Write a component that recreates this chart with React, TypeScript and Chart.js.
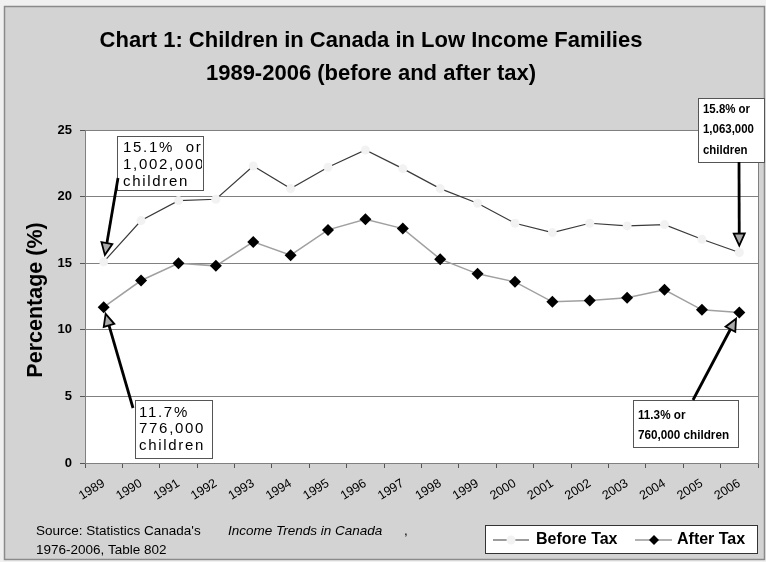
import { useEffect, useRef } from 'react';
import { Chart, registerables } from 'chart.js';

Chart.register(...registerables);

const years = ['1989', '1990', '1991', '1992', '1993', '1994', '1995', '1996', '1997', '1998', '1999', '2000', '2001', '2002', '2003', '2004', '2005', '2006'];
const beforeTax = [15.1, 18.2, 19.7, 19.8, 22.3, 20.6, 22.2, 23.5, 22.1, 20.6, 19.5, 18.0, 17.3, 18.0, 17.8, 17.9, 16.8, 15.8];
const afterTax = [11.7, 13.7, 15.0, 14.8, 16.6, 15.6, 17.5, 18.3, 17.6, 15.3, 14.2, 13.6, 12.1, 12.2, 12.4, 13.0, 11.5, 11.3];
const seriesNames = ['Before Tax', 'After Tax'];
const yTicks = [0, 5, 10, 15, 20, 25];

const titleLines = ['Chart 1: Children in Canada in Low Income Families', '1989-2006 (before and after tax)'];
const yAxisTitle = 'Percentage (%)';
const sourceLine1 = "Source: Statistics Canada's";
const sourceItalic = 'Income Trends in Canada';
const sourceLine2 = '1976-2006, Table 802';

const noteTexts = [
  ['15.1%  or', '1,002,000', 'children'],
  ['11.7%    or', '776,000', 'children'],
  ['15.8% or', '1,063,000', 'children'],
  ['11.3% or', '760,000 children'],
];
const noteTargets = [
  { series: 0, index: 0 },
  { series: 1, index: 0 },
  { series: 0, index: 17 },
  { series: 1, index: 17 },
];

const SANS = "'Liberation Sans', Arial, sans-serif";

const noteLayout = [
  { box: [117, 136, 86, 54], tx: 123, ly: [148, 165, 182], font: `15px ${SANS}`, spacing: '1.7px', sx: 1, start: [118, 178] },
  { box: [135, 400, 77, 58], tx: 139, ly: [413, 429, 446], font: `15px ${SANS}`, spacing: '1.7px', sx: 1, start: [133, 408] },
  { box: [698, 98, 66, 64], tx: 703, ly: [109, 129.5, 150], font: `bold 13px ${SANS}`, spacing: '0px', sx: 0.88, start: [739, 162] },
  { box: [633, 400, 105, 47], tx: 638, ly: [415, 435], font: `bold 13px ${SANS}`, spacing: '0px', sx: 0.9, start: [693, 400] },
];

function drawArrow(ctx: CanvasRenderingContext2D, x1: number, y1: number, x2: number, y2: number) {
  const ang = Math.atan2(y2 - y1, x2 - x1);
  const hl = 12;
  const hw = 5.5;
  const c = Math.cos(ang);
  const s = Math.sin(ang);
  const bx = x2 - hl * c;
  const by = y2 - hl * s;
  ctx.save();
  ctx.strokeStyle = '#000';
  ctx.lineWidth = 2.8;
  ctx.beginPath();
  ctx.moveTo(x1, y1);
  ctx.lineTo(bx, by);
  ctx.stroke();
  ctx.beginPath();
  ctx.moveTo(x2, y2);
  ctx.lineTo(bx + hw * s, by - hw * c);
  ctx.lineTo(bx - hw * s, by + hw * c);
  ctx.closePath();
  ctx.fillStyle = '#aaa';
  ctx.fill();
  ctx.lineWidth = 1.8;
  ctx.stroke();
  ctx.restore();
}

const decorPlugin = {
  id: 'decor',
  beforeDraw(chart: any) {
    const { ctx, width, height, chartArea } = chart;
    ctx.save();
    ctx.fillStyle = '#f0f0f0';
    ctx.fillRect(0, 0, width, height);
    ctx.fillStyle = '#d3d3d3';
    ctx.fillRect(4, 6, 761, 554);
    ctx.strokeStyle = '#8a8a8a';
    ctx.lineWidth = 1.5;
    ctx.strokeRect(4.5, 6.5, 760, 553);
    ctx.fillStyle = '#ffffff';
    ctx.fillRect(chartArea.left, chartArea.top, chartArea.right - chartArea.left, chartArea.bottom - chartArea.top);
    ctx.restore();
  },
  afterDraw(chart: any) {
    const { ctx, chartArea } = chart;
    ctx.save();
    ctx.strokeStyle = '#808080';
    ctx.lineWidth = 1;
    ctx.beginPath();
    ctx.moveTo(chartArea.right + 0.5, chartArea.top);
    ctx.lineTo(chartArea.right + 0.5, chartArea.bottom);
    ctx.stroke();

    // title
    ctx.fillStyle = '#000';
    ctx.textAlign = 'center';
    ctx.textBaseline = 'alphabetic';
    ctx.font = `bold 22px ${SANS}`;
    ctx.fillText(titleLines[0], 371, 47);
    ctx.fillText(titleLines[1], 371, 80);

    // y axis title
    ctx.save();
    ctx.translate(36, 300);
    ctx.rotate(-Math.PI / 2);
    ctx.font = `bold 21.5px ${SANS}`;
    ctx.textBaseline = 'middle';
    ctx.fillText(yAxisTitle, 0, 0);
    ctx.restore();

    // source
    ctx.textAlign = 'left';
    ctx.textBaseline = 'middle';
    ctx.font = `13.5px ${SANS}`;
    ctx.fillText(sourceLine1, 36, 531);
    ctx.font = `italic 13.5px ${SANS}`;
    ctx.fillText(sourceItalic, 228, 531);
    ctx.font = `13.5px ${SANS}`;
    ctx.fillText(',', 404, 531);
    ctx.fillText(sourceLine2, 36, 550);

    // legend
    ctx.fillStyle = '#fff';
    ctx.fillRect(485, 525, 272, 28);
    ctx.strokeStyle = '#333';
    ctx.lineWidth = 1;
    ctx.strokeRect(485.5, 525.5, 272, 28);
    const ly = 540;
    ctx.strokeStyle = '#3a3a3a';
    ctx.lineWidth = 1.2;
    ctx.beginPath();
    ctx.moveTo(493, ly);
    ctx.lineTo(529, ly);
    ctx.stroke();
    ctx.fillStyle = '#f2f2f2';
    ctx.beginPath();
    ctx.arc(511, ly, 4.5, 0, Math.PI * 2);
    ctx.fill();
    ctx.strokeStyle = '#999';
    ctx.lineWidth = 1.5;
    ctx.beginPath();
    ctx.moveTo(635, ly);
    ctx.lineTo(672, ly);
    ctx.stroke();
    ctx.fillStyle = '#000';
    ctx.beginPath();
    ctx.moveTo(654, ly - 5);
    ctx.lineTo(659, ly);
    ctx.lineTo(654, ly + 5);
    ctx.lineTo(649, ly);
    ctx.closePath();
    ctx.fill();
    ctx.fillStyle = '#000';
    ctx.font = `bold 16px ${SANS}`;
    ctx.textBaseline = 'middle';
    ctx.fillText(seriesNames[0], 536, ly);
    ctx.fillText(seriesNames[1], 677, ly);

    // annotations
    noteTexts.forEach((lines, i) => {
      const L = noteLayout[i];
      const [bx, by, bw, bh] = L.box;
      ctx.save();
      ctx.fillStyle = '#fff';
      ctx.fillRect(bx, by, bw, bh);
      ctx.strokeStyle = '#555';
      ctx.lineWidth = 1;
      ctx.strokeRect(bx + 0.5, by + 0.5, bw, bh);
      ctx.beginPath();
      ctx.rect(bx + 1, by + 1, bw - 2, bh - 2);
      ctx.clip();
      ctx.fillStyle = '#000';
      ctx.font = L.font;
      (ctx as any).letterSpacing = L.spacing;
      ctx.textAlign = 'left';
      ctx.textBaseline = 'middle';
      lines.forEach((t, j) => {
        ctx.save();
        ctx.translate(L.tx, L.ly[j]);
        ctx.scale(L.sx, 1);
        ctx.fillText(t, 0, 0);
        ctx.restore();
      });
      ctx.restore();
      const tgt = noteTargets[i];
      const meta = chart.getDatasetMeta(tgt.series);
      const pt = meta.data[tgt.index];
      const [sx, sy] = L.start;
      const dx = sx - pt.x;
      const dy = sy - pt.y;
      const d = Math.hypot(dx, dy);
      const tx = pt.x + (dx / d) * 7;
      const ty = pt.y + (dy / d) * 7;
      drawArrow(ctx, sx, sy, tx, ty);
    });
    ctx.restore();
  },
};

export default function App() {
  const ref = useRef<HTMLCanvasElement | null>(null);
  useEffect(() => {
    if (!ref.current) return;
    const chart = new Chart(ref.current, {
      type: 'line',
      data: {
        labels: years,
        datasets: [
          {
            label: seriesNames[0],
            data: beforeTax,
            borderColor: '#3a3a3a',
            borderWidth: 1.2,
            pointStyle: 'circle',
            pointRadius: 4.5,
            pointBackgroundColor: '#f2f2f2',
            pointBorderColor: '#f2f2f2',
            pointBorderWidth: 0,
            tension: 0,
            order: 1,
          },
          {
            label: seriesNames[1],
            data: afterTax,
            borderColor: '#a0a0a0',
            borderWidth: 1.5,
            pointStyle: 'rectRot',
            pointRadius: 6,
            pointBackgroundColor: '#000',
            pointBorderColor: '#000',
            pointBorderWidth: 0,
            tension: 0,
            order: 0,
          },
        ],
      },
      options: {
        responsive: false,
        animation: false,
        devicePixelRatio: 1,
        layout: { padding: { left: 0, right: 8, top: 130, bottom: 0 } },
        plugins: { legend: { display: false }, title: { display: false }, tooltip: { enabled: false } },
        scales: {
          x: {
            type: 'category',
            offset: true,
            afterFit: (s: any) => { s.height = 99; },
            grid: { display: true, drawOnChartArea: false, drawTicks: true, tickLength: 5, offset: true, color: '#555' },
            border: { color: '#808080', width: 1 },
            ticks: {
              minRotation: 32,
              maxRotation: 32,
              autoSkip: false,
              padding: 8,
              color: '#000',
              font: { family: SANS, size: 12.5 },
            },
          },
          y: {
            min: yTicks[0],
            max: yTicks[yTicks.length - 1],
            afterFit: (s: any) => { s.width = 85; },
            afterBuildTicks: (s: any) => { s.ticks = yTicks.map((v) => ({ value: v })); },
            grid: { color: '#808080', lineWidth: 1, tickLength: 5, tickColor: '#555' },
            border: { color: '#808080', width: 1 },
            ticks: { padding: 8, color: '#000', font: { family: SANS, size: 13, weight: 'bold' } },
          },
        },
      },
      plugins: [decorPlugin],
    } as any);
    return () => chart.destroy();
  }, []);
  return (
    <div style={{ position: 'absolute', left: 0, top: 0 }}>
      <canvas ref={ref} width={766} height={562} />
    </div>
  );
}
